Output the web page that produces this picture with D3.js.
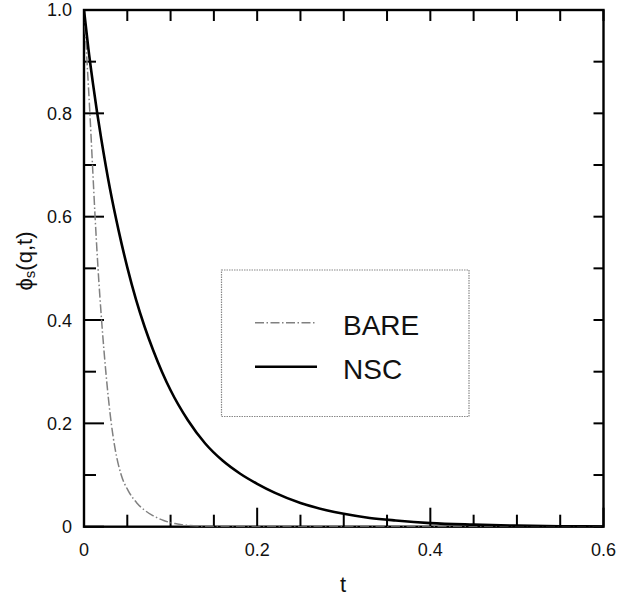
<!DOCTYPE html>
<html>
<head>
<meta charset="utf-8">
<script src="https://cdn.jsdelivr.net/npm/d3@7"></script>
<style>
  body { margin: 0; background: #fff; }
  svg text { font-family: "Liberation Sans", Arial, sans-serif; fill: #111; }
</style>
</head>
<body>
<div id="chart"></div>
<script>
// values
const tNSC = [0, 0.005, 0.01, 0.015, 0.02, 0.03, 0.04, 0.05, 0.06, 0.07, 0.08, 0.09, 0.10,
              0.12, 0.14, 0.16, 0.18, 0.20, 0.22, 0.25, 0.28, 0.30, 0.33, 0.36, 0.40, 0.45, 0.50, 0.55, 0.60];
const phiNSC = [1.0, 0.926, 0.862, 0.803, 0.750, 0.654, 0.573, 0.502, 0.440, 0.387, 0.341, 0.300, 0.264,
                0.206, 0.161, 0.128, 0.103, 0.083, 0.066, 0.046, 0.032, 0.025, 0.017, 0.012, 0.007, 0.004, 0.002, 0.001, 0.0005];

const tBARE = [0, 0.0035, 0.0068, 0.0098, 0.0128, 0.0162, 0.0203, 0.0252, 0.0315, 0.036, 0.043, 0.051,
               0.061, 0.070, 0.079, 0.092, 0.105, 0.12, 0.15, 0.2, 0.3, 0.4, 0.5, 0.6];
const phiBARE = [1.0, 0.9, 0.8, 0.7, 0.6, 0.5, 0.4, 0.3, 0.2, 0.15, 0.1, 0.07,
                 0.046, 0.032, 0.022, 0.012, 0.006, 0.0025, 0.0005, 0, 0, 0, 0, 0];

const xTicks = [0, 0.2, 0.4, 0.6];
const yTicks = [0, 0.2, 0.4, 0.6, 0.8, 1.0];
const yTickLabels = ["0", "0.2", "0.4", "0.6", "0.8", "1.0"];
const legendLabels = ["BARE", "NSC"];

const W = 630, H = 597;
const m = {left: 84, right: 603.5, top: 10, bottom: 526.7};

const svg = d3.select("#chart").append("svg")
    .attr("width", W).attr("height", H);

const x = d3.scaleLinear().domain([0, 0.6]).range([m.left, m.right]);
const y = d3.scaleLinear().domain([0, 1]).range([m.bottom, m.top]);

svg.append("defs").append("clipPath").attr("id", "clip")
  .append("rect").attr("x", m.left).attr("y", m.top - 2)
  .attr("width", m.right - m.left).attr("height", m.bottom - m.top + 2);

// ticks (all inward)
const minorX = d3.range(0, 0.6001, 0.05);
const minorY = d3.range(0, 1.0001, 0.1);
const isMajor = d => Math.abs(d * 5 - Math.round(d * 5)) < 1e-6;
const tickG = svg.append("g").attr("stroke", "#000").attr("stroke-width", 2);

// bottom
tickG.selectAll(".bx").data(minorX).enter().append("line")
  .attr("x1", d => x(d)).attr("x2", d => x(d))
  .attr("y1", m.bottom)
  .attr("y2", d => m.bottom - (isMajor(d) ? 19 : 12));
// top
tickG.selectAll(".tx").data(minorX).enter().append("line")
  .attr("x1", d => x(d)).attr("x2", d => x(d))
  .attr("y1", m.top).attr("y2", m.top + 11);
// left
tickG.selectAll(".ly").data(minorY).enter().append("line")
  .attr("y1", d => y(d)).attr("y2", d => y(d))
  .attr("x1", m.left)
  .attr("x2", d => m.left + (isMajor(d) ? 20 : 12));
// right
tickG.selectAll(".ry").data(minorY).enter().append("line")
  .attr("y1", d => y(d)).attr("y2", d => y(d))
  .attr("x1", m.right).attr("x2", m.right - 10);

// frame
svg.append("rect")
  .attr("x", m.left).attr("y", m.top)
  .attr("width", m.right - m.left).attr("height", m.bottom - m.top)
  .attr("fill", "none").attr("stroke", "#000").attr("stroke-width", 2.4);

// tick labels
svg.selectAll(".xl").data(xTicks).enter().append("text")
  .attr("x", d => x(d)).attr("y", 556)
  .attr("text-anchor", "middle").style("font-size", "18px")
  .text(d => d === 0 ? "0" : d.toFixed(1));

svg.selectAll(".yl").data(yTicks).enter().append("text")
  .attr("x", 72).attr("y", d => y(d)).attr("dy", "0.36em")
  .attr("text-anchor", "end").style("font-size", "18px")
  .text((d, i) => yTickLabels[i]);

// axis titles
svg.append("text").attr("x", 343).attr("y", 592)
  .attr("text-anchor", "middle").style("font-size", "22px").text("t");

const yt = svg.append("text")
  .attr("transform", "translate(32,261) rotate(-90)")
  .attr("text-anchor", "middle").style("font-size", "22px");
yt.append("tspan").text("\u03D5");
yt.append("tspan").style("font-size", "15px").attr("dy", 3).text("s");
yt.append("tspan").attr("dy", -3).text("(q,t)");

// curves
const line = d3.line().x(d => x(d[0])).y(d => y(d[1])).curve(d3.curveMonotoneX);
const plot = svg.append("g").attr("clip-path", "url(#clip)");

const bareStyle = sel => sel.attr("fill", "none")
  .attr("stroke", "#808080").attr("stroke-width", 1.5)
  .attr("stroke-dasharray", "9,2.5,1.5,2.5");

plot.append("path")
  .datum(tBARE.map((t, i) => [t, phiBARE[i]]))
  .attr("d", line).call(bareStyle);

plot.append("path")
  .datum(tNSC.map((t, i) => [t, phiNSC[i]]))
  .attr("d", line).attr("fill", "none")
  .attr("stroke", "#000").attr("stroke-width", 2.6);

// legend
const lg = svg.append("g");
lg.append("rect")
  .attr("x", 221.5).attr("y", 270).attr("width", 247.5).attr("height", 146.5)
  .attr("fill", "none").attr("stroke", "#888").attr("stroke-width", 1.2)
  .attr("stroke-dasharray", "1.5,1");

const legY = [322.7, 366.7];
lg.append("line").attr("x1", 255).attr("x2", 317).attr("y1", legY[0]).attr("y2", legY[0])
  .call(bareStyle);
lg.append("line").attr("x1", 255).attr("x2", 317).attr("y1", legY[1]).attr("y2", legY[1])
  .attr("stroke", "#000").attr("stroke-width", 2.6);

lg.selectAll(".lt").data(legendLabels).enter().append("text")
  .attr("x", 343).attr("y", (d, i) => legY[i] + 12)
  .style("font-size", "28px").text(d => d);
</script>
</body>
</html>
